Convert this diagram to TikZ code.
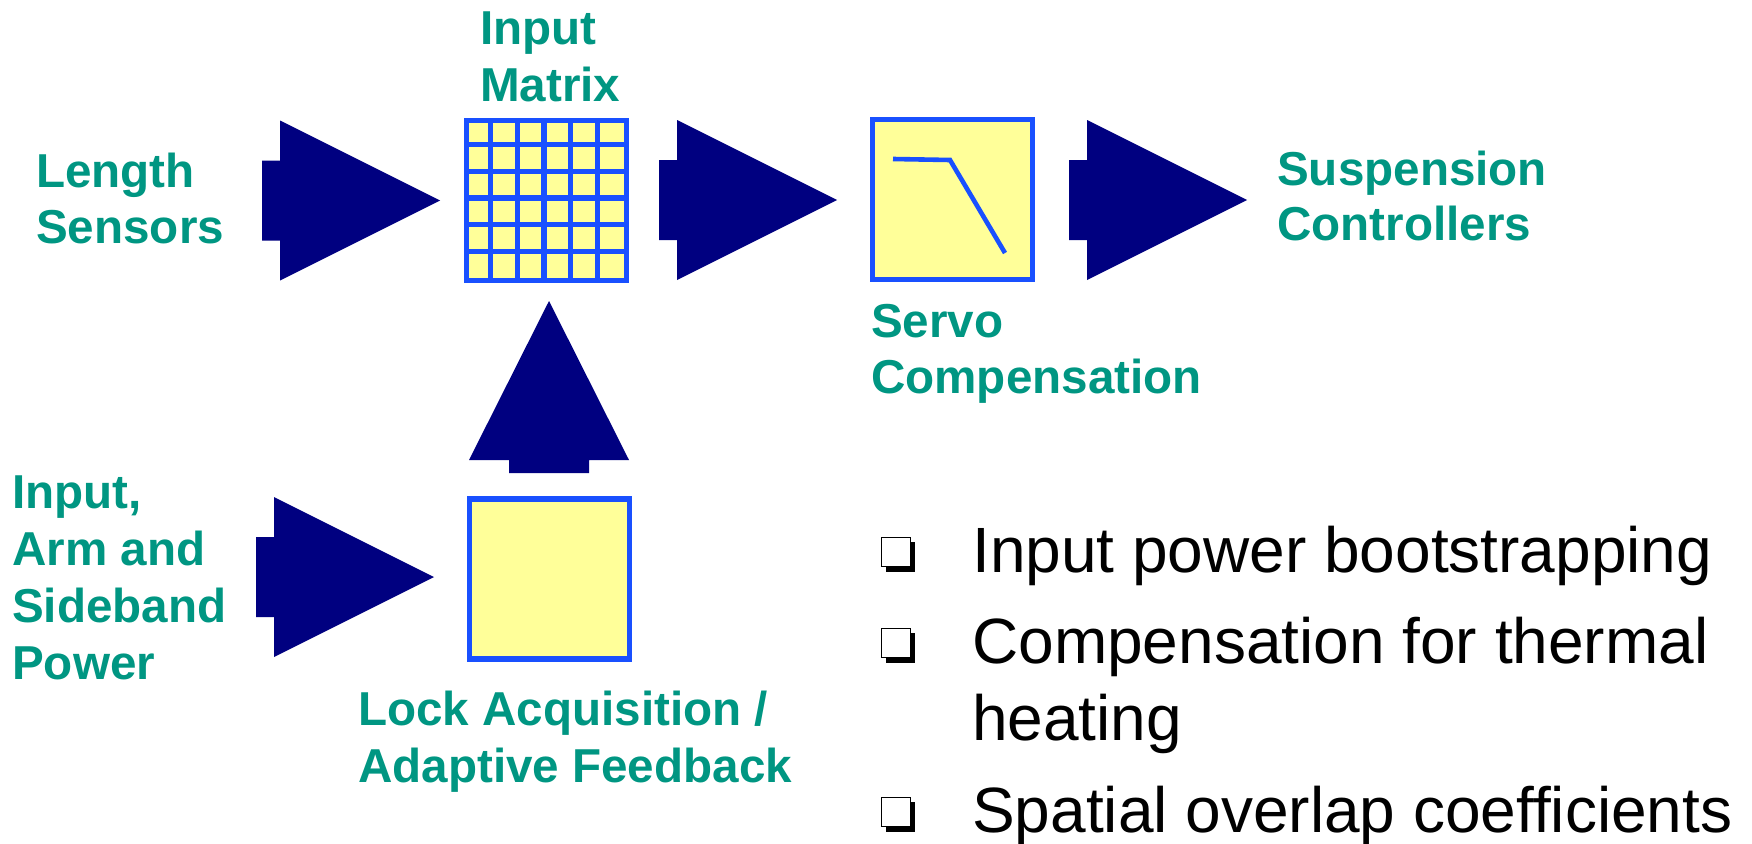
\documentclass[tikz,border=0pt]{standalone}
\usepackage{fontspec}
\setmainfont{Liberation Sans}
\definecolor{navyarrow}{RGB}{0,0,128}
\definecolor{boxblue}{RGB}{25,80,255}
\definecolor{boxyellow}{RGB}{255,255,153}
\definecolor{labteal}{RGB}{0,150,130}
\tikzset{
  lab/.style={anchor=base west, inner sep=0pt, text=labteal, font=\fontsize{47.6}{56}\selectfont\bfseries},
  btxt/.style={anchor=base west, inner sep=0pt, text=black, font=\fontsize{64}{75}\selectfont},
  ybox/.style={draw=boxblue, fill=boxyellow, line width=5.3pt, minimum size=160pt, inner sep=0pt},
  gridline/.style={draw=boxblue, line width=5.3pt},
  rarrow/.pic={\fill[navyarrow] (0,0) -- (-160,-80) -- (-160,-40) -- (-178,-40) -- (-178,40) -- (-160,40) -- (-160,80) -- cycle;},
  uarrow/.pic={\fill[navyarrow] (0,0) -- (-80,159) -- (-40,159) -- (-40,172) -- (40,172) -- (40,159) -- (80,159) -- cycle;},
  qbullet/.pic={\fill[black] (5,-30) rectangle (34,0);
                \filldraw[fill=white, draw=black, line width=1.2pt] (0.6,-34.4) rectangle (29.4,-5.6);}
}
\begin{document}
\begin{tikzpicture}[x=1pt,y=-1pt]
\useasboundingbox (0,0) rectangle (1752,843);

% boxes
\node[ybox] (mat) at (546.7,200.7) {};
\foreach \i in {1,...,5}{
  \draw[gridline] ([xshift=\i*26.67pt]mat.north west) -- ([xshift=\i*26.67pt]mat.south west);
  \draw[gridline] ([yshift=-\i*26.67pt]mat.north west) -- ([yshift=-\i*26.67pt]mat.north east);
}
\node[ybox] (servo) at (952.5,199.5) {};
\draw[boxblue, line width=4.6pt] (893,159) -- (950,160) -- (1005,253);
\node[ybox] (lock) at (549.5,579) {};

% block arrows
\pic (a1) at (440,200.5) {rarrow};
\pic (a2) at (837,200) {rarrow};
\pic (a3) at (1247,200) {rarrow};
\pic (a4) at (434,577) {rarrow};
\pic (a5) at (549,301) {uarrow};

% labels
\node[lab] (ls1) at (36,187) {Length};
\node[lab] (ls2) at (36,243) {Sensors};
\node[lab] (im1) at (480,45) {Input};
\node[lab] (im2) at (480,101) {Matrix};
\node[lab] (sc1) at (1277,185) {Suspension};
\node[lab] (sc2) at (1277,240) {Controllers};
\node[lab] (sv1) at (871,337) {Servo};
\node[lab] (sv2) at (871,393) {Compensation};
\node[lab] (ip1) at (12,508) {Input,};
\node[lab] (ip2) at (12,565) {Arm and};
\node[lab] (ip3) at (12,622) {Sideband};
\node[lab] (ip4) at (12,679) {Power};
\node[lab] (la1) at (358,725) {Lock Acquisition /};
\node[lab] (la2) at (358,782) {Adaptive Feedback};

% bullets
\pic (q1) at (881,572) {qbullet};
\pic (q2) at (881,663) {qbullet};
\pic (q3) at (881,832) {qbullet};
\node[btxt] (b1) at (972,572) {Input power bootstrapping};
\node[btxt] (b2) at (972,663) {Compensation for thermal};
\node[btxt] (b2b) at (972,740) {heating};
\node[btxt] (b3) at (972,832) {Spatial overlap coefficients};
\end{tikzpicture}
\end{document}
